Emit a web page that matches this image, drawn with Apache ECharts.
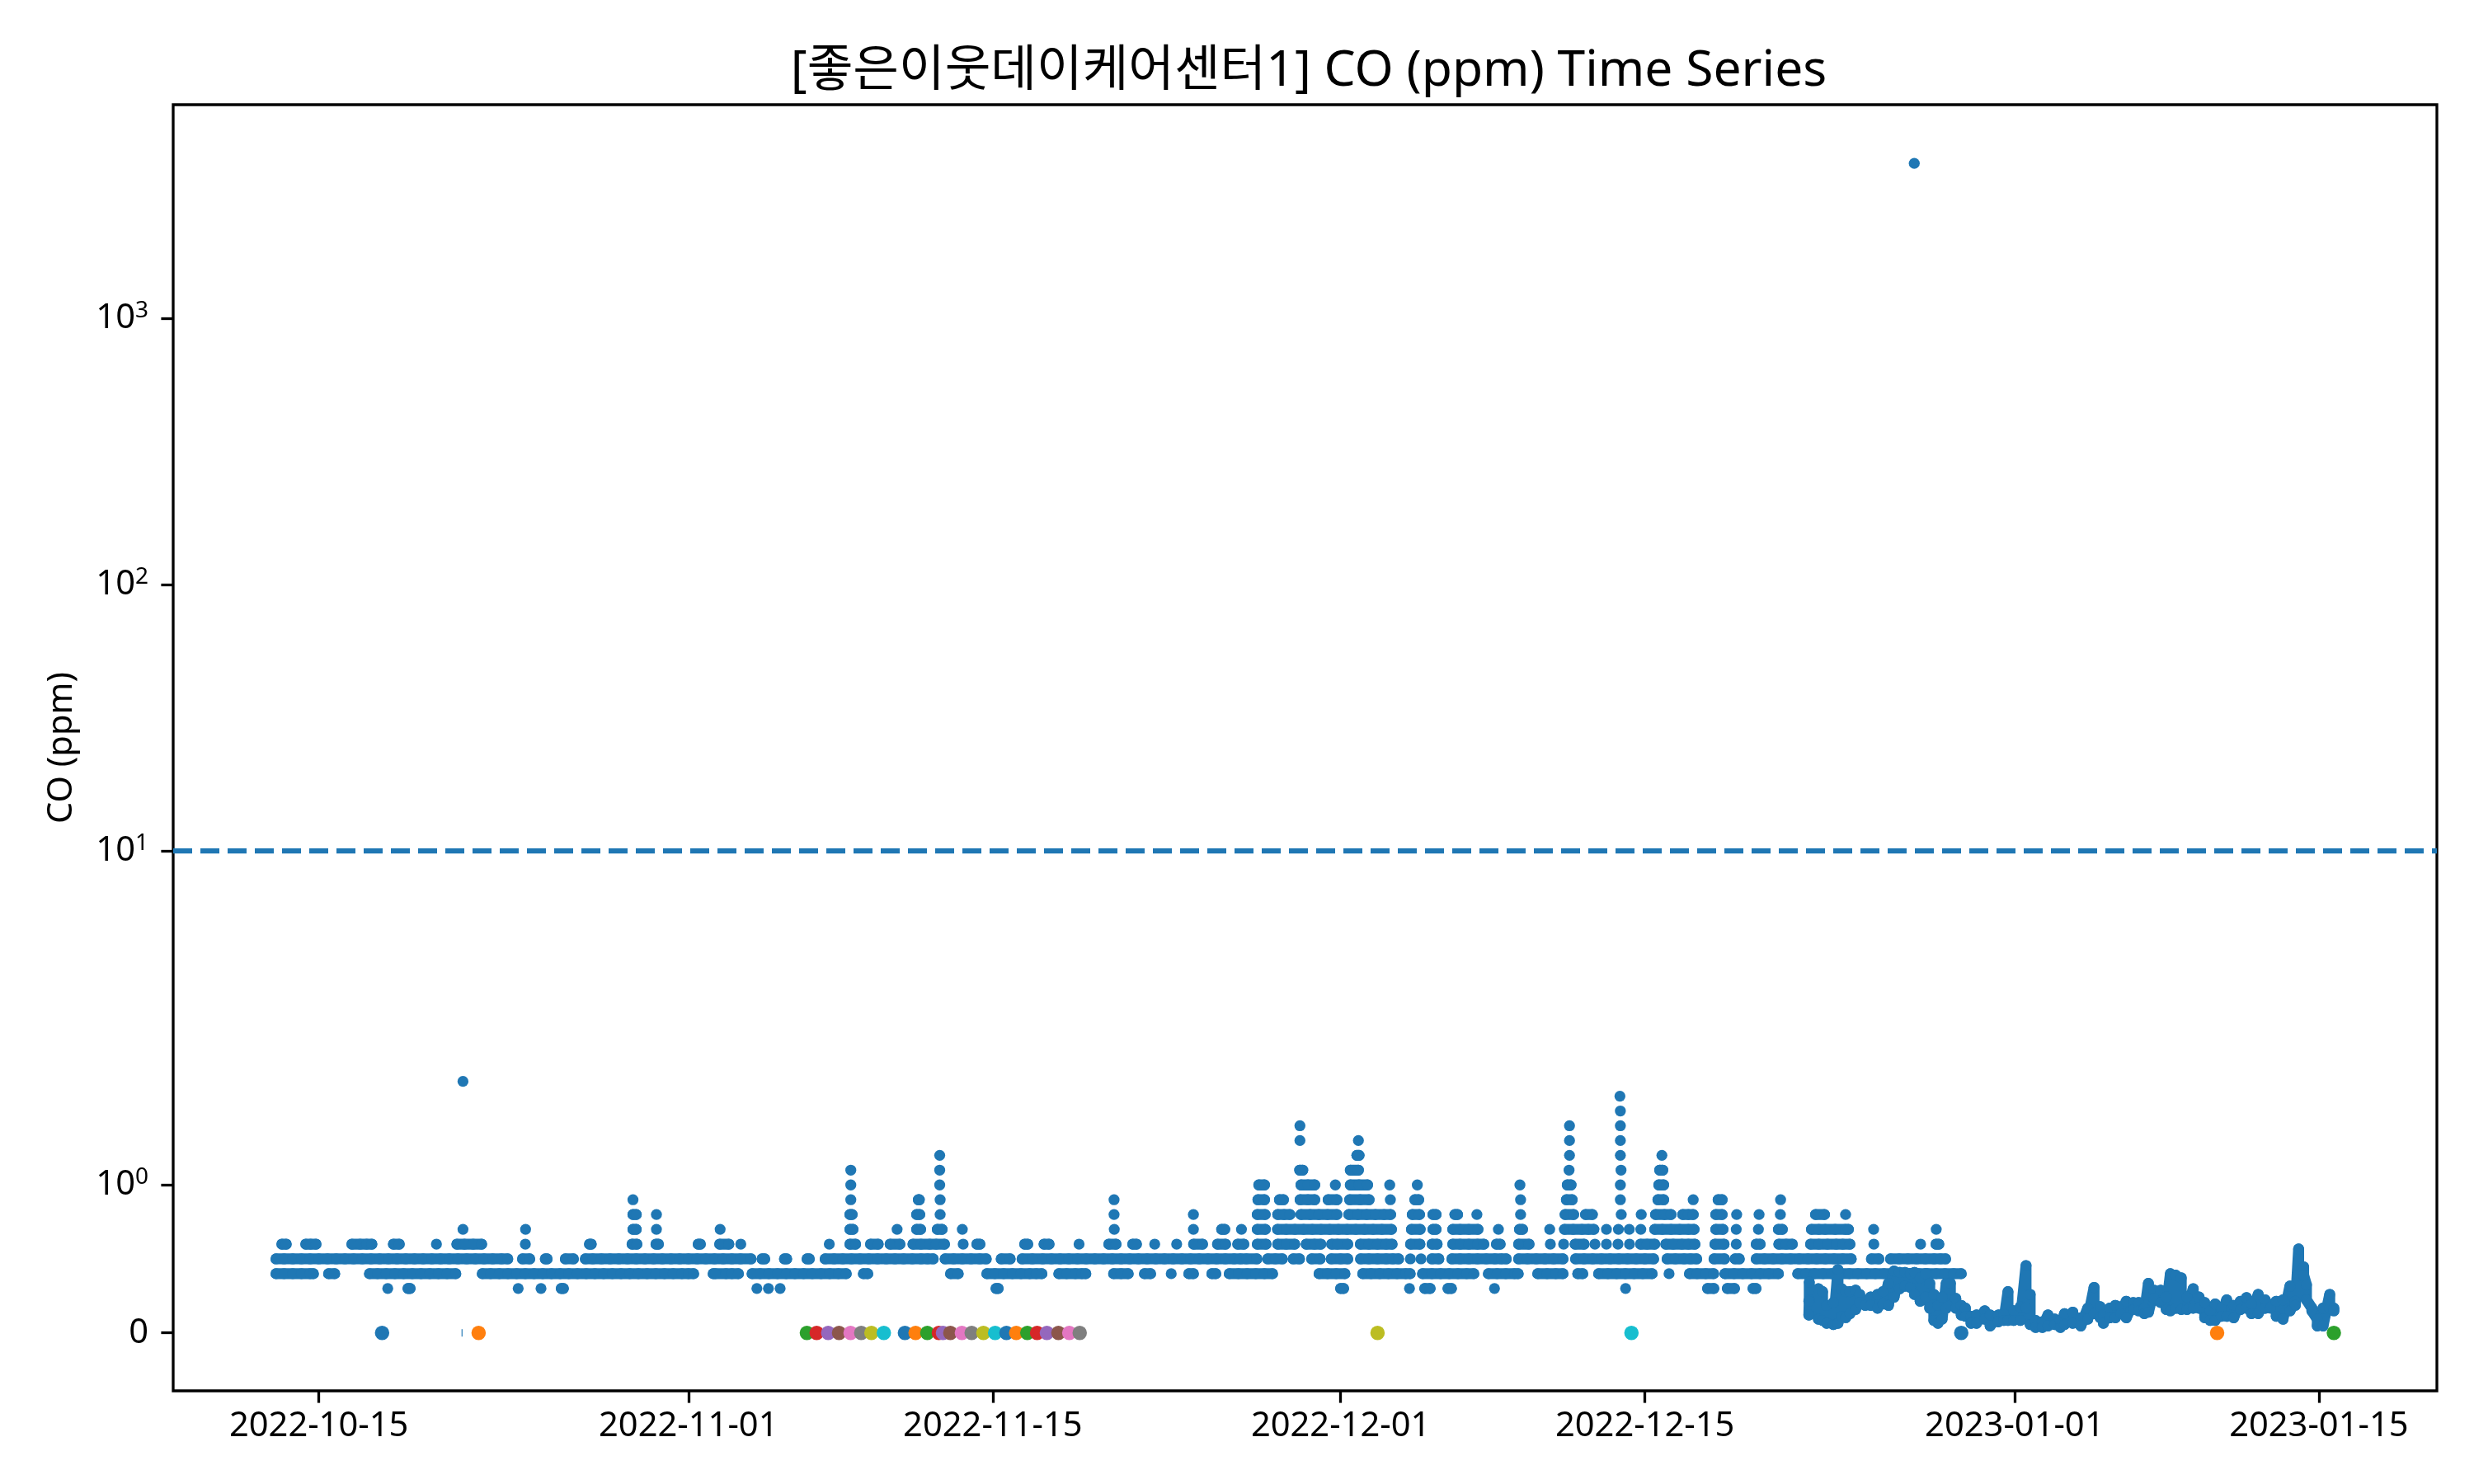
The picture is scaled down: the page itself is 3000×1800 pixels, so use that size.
<!DOCTYPE html>
<html><head><meta charset="utf-8">
<style>html,body{margin:0;padding:0;background:#fff}#c{width:3000px;height:1800px}</style>
<script src="https://cdn.jsdelivr.net/npm/echarts@6/dist/echarts.min.js"></script>
</head><body><div id="c"></div>
<script>
// x values are days since 2022-10-01 (UTC)
const epochDay = Date.UTC(2022, 9, 1);
const titleText = '[좋은이웃데이케어센터1] CO (ppm) Time Series';
const yAxisName = 'CO (ppm)';
const xTickLabels = ['2022-10-15','2022-11-01','2022-11-15','2022-12-01','2022-12-15','2023-01-01','2023-01-15'];
const yTickValues = [0, 1, 10, 100, 1000];
const thresholdValue = 10;

const days_0_3 = [17.17,18.1,18.2,23.17,24.22,25.15,25.25,34.15,34.68,35.22,45.15,45.25,61.0,61.14,64.17,64.87,65.12,65.94,66.1,68.08,74.11,77.88,78.17,78.79,79.12,79.97,80.11];
const days_0_4 = [12.03,12.4,12.8,13.2,13.6,13.75,14.45,14.73,16.33,16.7,17.1,17.5,17.9,18.3,18.7,19.1,19.5,19.9,20.3,21.52,21.9,22.3,22.7,23.1,23.5,23.9,24.3,24.7,25.1,25.5,25.9,26.3,26.7,27.1,27.5,27.9,28.3,28.7,29.1,29.5,29.9,30.3,30.7,31.0,31.24,32.14,32.24,32.73,33.0,33.3,33.93,34.3,34.7,35.1,35.5,35.9,36.3,36.7,37.1,37.5,37.9,38.26,39.05,39.25,43.06,43.41,44.73,45.1,45.5,45.9,46.3,46.7,47.0,47.26,48.04,48.4,48.8,49.1,49.28,50.56,50.9,51.23,51.98,52.26,53.21,54.02,54.23,55.08,55.26,55.88,56.3,56.7,57.1,57.5,57.87,60.01,60.4,60.8,61.2,62.02,62.4,62.8,63.2,63.6,64.0,64.2,64.77,65.2,65.6,66.0,66.4,66.8,67.13,67.8,68.2,68.6,69.0,69.17,70.07,70.5,70.9,71.23,71.91,72.14,72.87,73.3,73.7,74.1,74.5,74.9,75.33,76.11,77.05,77.4,77.8,78.16,78.68,79.1,79.5,79.9,80.3,80.7,81.14,82.03,82.4,82.8,83.2,83.6,84.0,84.4,84.8,85.2,85.6,86.0,86.4,86.8,87.2,87.6,88.0,88.4,88.8,89.2,89.55];
const days_0_5 = [12.03,12.4,12.8,13.2,13.6,14.0,14.4,14.8,15.2,15.6,16.0,16.4,16.8,17.2,17.6,18.0,18.4,18.8,19.2,19.6,20.0,20.4,20.8,21.2,21.6,22.0,22.4,22.69,23.37,23.7,24.42,24.5,25.34,25.71,26.26,26.6,27.0,27.4,27.8,28.2,28.6,29.0,29.4,29.8,30.2,30.6,31.0,31.4,31.8,32.2,32.6,33.0,33.4,33.88,34.39,34.51,35.42,35.52,36.46,36.56,37.29,37.7,38.1,38.5,38.9,39.3,39.7,40.1,40.5,40.9,41.3,41.7,42.0,42.26,42.81,43.2,43.6,44.0,44.4,44.7,45.39,45.8,46.35,46.82,47.3,47.7,48.1,48.5,48.9,49.3,49.7,50.1,50.5,50.9,51.3,51.7,52.1,52.5,52.9,53.3,53.7,54.1,54.5,54.9,55.3,55.7,56.1,56.4,56.67,57.15,57.65,58.0,58.32,58.82,59.11,59.67,60.06,60.57,61.0,61.33,61.92,62.3,62.7,63.1,63.4,63.67,64.21,64.7,65.2,65.52,66.12,66.5,66.9,67.3,67.7,68.1,68.4,68.62,69.19,69.6,70.0,70.4,70.8,71.23,71.81,72.2,72.6,73.0,73.4,73.8,74.2,74.6,75.0,75.4,76.02,76.4,76.8,77.1,77.38,78.18,78.66,79.15,79.34,80.12,80.5,80.9,81.3,81.7,82.1,82.5,82.9,83.3,83.7,84.1,84.49,85.42,85.76,86.3,86.7,87.1,87.5,87.9,88.3,88.6,88.83];
const days_0_6 = [12.3,12.5,13.4,13.62,13.87,15.52,15.9,16.2,16.44,17.43,17.7,19.41,20.35,20.7,21.1,21.49,23.5,26.45,26.53,28.41,28.63,29.51,29.62,31.45,31.55,32.44,32.86,33.41,37.48,38.43,38.69,39.38,39.73,40.28,40.73,41.33,41.7,42.1,42.4,42.78,43.64,44.27,44.41,46.47,46.61,47.36,47.59,48.97,50.34,50.67,51.44,51.61,52.45,53.46,54.24,54.65,55.34,55.71,56.27,56.55,57.17,57.57,58.11,58.5,58.89,59.42,59.8,60.09,60.59,60.85,61.33,61.91,62.3,62.7,63.1,63.37,64.22,64.65,65.21,65.44,66.16,66.5,66.9,67.3,67.59,68.17,68.34,69.19,69.67,70.65,71.26,71.79,72.2,72.7,73.23,73.76,74.29,74.8,75.1,75.45,75.96,76.3,76.7,77.0,77.3,78.22,78.64,79.2,80.12,80.3,81.16,81.5,81.78,82.62,83.0,83.4,83.8,84.1,84.43,85.53,87.68,88.39,88.52];
const days_0_7 = [20.63,23.51,28.45,28.6,29.53,32.46,38.43,38.57,40.6,41.5,41.68,42.45,42.67,43.6,50.59,54.23,55.53,55.67,56.44,57.17,57.54,58.1,58.5,58.9,59.3,59.7,60.1,60.5,60.9,61.3,61.7,62.1,62.5,62.9,63.34,64.26,64.66,65.25,65.39,66.16,66.5,66.9,67.32,68.26,69.23,69.37,70.62,71.3,71.7,72.1,72.4,72.65,73.23,73.78,74.28,74.81,75.45,75.8,76.2,76.6,77.0,77.26,78.26,78.59,79.2,80.22,81.14,81.32,82.66,83.0,83.29,83.75,84.22,84.36,85.52,88.4];
const days_0_8 = [28.45,28.6,29.53,38.43,38.53,41.5,41.64,42.58,50.58,54.23,57.17,57.53,58.11,58.4,58.67,59.18,59.6,60.0,60.4,60.83,61.38,61.8,62.2,62.6,63.0,63.3,64.3,64.63,65.25,65.39,66.26,66.38,67.27,69.28,71.33,71.72,72.27,72.58,73.91,74.83,75.49,75.9,76.2,76.74,77.0,77.22,78.26,78.55,79.22,80.25,81.23,82.85,83.26,84.23];
const days_0_9 = [28.45,38.47,41.58,41.62,42.58,50.58,57.2,57.5,58.19,58.37,59.14,59.5,59.81,60.43,60.83,61.42,61.9,62.31,63.29,64.42,64.59,69.28,71.39,71.65,73.87,75.6,75.86,77.22,78.37,78.55,81.24];
const days_1_0 = [38.47,42.56,57.24,57.5,59.18,59.5,59.81,60.76,61.45,61.85,62.24,63.26,64.53,69.25,71.43,71.6,73.87,75.64,75.86];
const days_1_1 = [38.47,42.56,59.12,59.26,61.45,61.82,71.51,73.9,75.68,75.82];
const days_1_2 = [42.56,61.75,61.85,71.53,73.87,75.78];
const days_1_3 = [59.13,61.82,71.53,73.87];
const days_1_4 = [59.13,71.53,73.87];
const days_1_5 = [73.87];
const days_1_6 = [73.85];
const days_1_7 = [20.63];
const outlierDay = [87.39];
const outlierValue = [3816];

// finer sensor period at the end of the record: day, highest and lowest reading read at that day
const traceDays = [82.56,82.54,82.98,83.17,83.36,83.67,83.88,84.05,84.24,84.43,84.69,84.88,85.13,85.38,85.70,85.95,86.20,86.46,86.71,86.96,87.21,87.40,87.66,87.91,88.10,88.29,88.48,88.67,88.86,89.05,89.30,89.55,89.74,90.00,90.25,90.63,90.88,91.26,91.51,91.70,91.96,92.27,92.53,92.72,92.97,93.28,93.54,93.85,94.11,94.30,94.68,95.05,95.37,95.66,95.94,96.09,96.38,96.64,96.89,97.14,97.46,97.71,97.97,98.16,98.41,98.72,98.98,99.17,99.42,99.67,99.93,100.22,100.49,100.75,101.00,101.23,101.51,101.76,102.08,102.39,102.67,102.90,103.21,103.53,103.78,104.04,104.35,104.67,104.92,105.07,105.30,105.43,105.68,105.93,106.19,106.50,106.69];
const traceHigh = [.344,.214,.298,.279,.186,.205,.428,.298,.279,.279,.288,.260,.205,.242,.260,.279,.335,.418,.409,.409,.400,.409,.372,.400,.335,.260,.186,.242,.335,.335,.233,.186,.167,.112,.121,.149,.121,.121,.130,.279,.149,.177,.455,.260,.084,.075,.121,.093,.084,.130,.140,.102,.167,.307,.177,.121,.167,.186,.177,.214,.205,.205,.167,.335,.288,.288,.242,.400,.390,.372,.242,.298,.242,.205,.149,.195,.167,.223,.186,.214,.238,.195,.260,.223,.177,.214,.223,.316,.214,.567,.446,.325,.167,.093,.167,.260,.167];
const traceLow = [.223,.121,.093,.084,.065,.056,.065,.112,.103,.130,.158,.205,.186,.186,.167,.195,.186,.242,.298,.316,.307,.260,.214,.242,.167,.084,.065,.093,.167,.186,.167,.121,.112,.065,.065,.093,.047,.075,.084,.084,.084,.084,.167,.056,.037,.037,.047,.056,.037,.056,.065,.047,.093,.130,.102,.065,.102,.102,.130,.102,.158,.149,.130,.140,.233,.205,.158,.149,.167,.158,.158,.167,.167,.102,.084,.084,.112,.112,.102,.158,.167,.130,.130,.167,.167,.112,.093,.149,.186,.390,.390,.223,.149,.047,.047,.167,.149];

// zero readings, drawn one colour after another around the ten-colour cycle
const zeroDays = [16.91,21.35,36.45,36.90,37.43,37.93,38.46,38.95,39.42,39.99,40.96,41.45,41.99,42.52,42.71,43.05,43.58,44.03,44.57,45.11,45.63,46.08,46.59,47.04,47.49,48.02,48.52,49.0,62.70,74.38,89.55,101.32,106.69];
const zeroColourIndex = [0,1,2,3,4,5,6,7,8,9,0,1,2,3,4,5,6,7,8,9,0,1,2,3,4,5,6,7,8,9,0,1,2];
const tinyZeroDay = [20.59];
const palette = ['#1f77b4','#ff7f0e','#2ca02c','#d62728','#9467bd','#8c564b','#e377c2','#7f7f7f','#bcbd22','#17becf'];

const levelTable = [[0.3,days_0_3],[0.4,days_0_4],[0.5,days_0_5],[0.6,days_0_6],[0.7,days_0_7],[0.8,days_0_8],[0.9,days_0_9],[1.0,days_1_0],[1.1,days_1_1],[1.2,days_1_2],[1.3,days_1_3],[1.4,days_1_4],[1.5,days_1_5],[1.6,days_1_6],[1.7,days_1_7]];

// symmetric-log scale: linear to 2, then decades (linscale 1)
const LT = 2, LS = 1 / (1 - 0.1);
const sym = v => v <= LT ? v * LS : LT * (LS + Math.log10(v / LT));
const t = d => epochDay + d * 86400000;
const iso = s => Date.parse(s + 'T00:00:00Z');

const fam = '"Noto Sans","Noto Sans CJK KR",sans-serif';
const blue = palette[0];
const MARK = 13.3, LINK_DAYS = 0.49;

// readings closer than the marker width merge into one solid band
const levelSeries = levelTable.map(([v, ds]) => {
  const data = [];
  ds.forEach((d, i) => {
    if (i && d - ds[i - 1] > LINK_DAYS) data.push([t(d), null]);
    data.push([t(d), sym(v)]);
  });
  return {type: 'line', silent: true, z: 2, symbol: 'circle', symbolSize: MARK, showSymbol: true, showAllSymbol: true,
    connectNulls: false, itemStyle: {color: blue}, lineStyle: {color: blue, width: MARK, cap: 'round', join: 'round'}, data};
});
const traceData = [];
traceDays.forEach((d, i) => { traceData.push([t(d), sym(traceHigh[i])]); traceData.push([t(d), sym(traceLow[i])]); });

const chart = echarts.init(document.getElementById('c'), null, {renderer: 'canvas', width: 3000, height: 1800});
chart.setOption({
  animation: false,
  backgroundColor: '#fff',
  title: {text: titleText, left: 1582, top: 52, textAlign: 'center',
    textStyle: {fontFamily: fam, fontSize: 60.5, fontWeight: 'normal', color: '#000'}},
  grid: {left: 210, right: 45, top: 127, bottom: 113, show: true, borderColor: '#000', borderWidth: 3.3, backgroundColor: '#fff', containLabel: false},
  xAxis: {type: 'value', min: t(7.30), max: t(111.43), scale: true,
    splitLine: {show: false}, axisLine: {show: false, onZero: false},
    axisTick: {show: true, length: 14.6, inside: false, lineStyle: {color: '#000', width: 3.3}, customValues: xTickLabels.map(iso)},
    axisLabel: {show: true, fontFamily: fam, fontSize: 41.67, color: '#000', margin: 22, hideOverlap: false,
      customValues: xTickLabels.map(iso),
      formatter: v => xTickLabels[xTickLabels.map(iso).indexOf(v)] || ''}
  },
  yAxis: {type: 'value', min: -0.4353, max: 9.224, scale: false,
    name: yAxisName, nameLocation: 'middle', nameRotate: 90, nameGap: 114,
    nameTextStyle: {fontFamily: fam, fontSize: 41.67, color: '#000'},
    splitLine: {show: false}, axisLine: {show: false, onZero: false},
    axisTick: {show: true, length: 14.6, lineStyle: {color: '#000', width: 3.3}, customValues: yTickValues.map(sym)},
    axisLabel: {show: true, fontFamily: fam, fontSize: 41.67, color: '#000', margin: 30, hideOverlap: false,
      customValues: yTickValues.map(sym),
      formatter: v => {
        const i = yTickValues.map(sym).findIndex(x => Math.abs(x - v) < 1e-6);
        if (yTickValues[i] === 0) return '0';
        return '{b|10}{s|' + Math.round(Math.log10(yTickValues[i])) + '}';
      },
      rich: {b: {fontFamily: fam, fontSize: 41.67, color: '#000', lineHeight: 46},
             s: {fontFamily: fam, fontSize: 28, color: '#000', verticalAlign: 'top', lineHeight: 28}}}
  },
  series: [
    ...levelSeries,
    {type: 'scatter', silent: true, z: 2, symbol: 'circle', symbolSize: MARK, itemStyle: {color: blue, opacity: 1},
     data: outlierDay.map((d, i) => [t(d), sym(outlierValue[i])])},
    {type: 'line', silent: true, z: 3, symbol: 'circle', symbolSize: MARK, showSymbol: true, showAllSymbol: true,
     itemStyle: {color: blue}, lineStyle: {color: blue, width: MARK, cap: 'round', join: 'round'}, data: traceData},
    {type: 'scatter', silent: true, z: 4, symbol: 'rect', symbolSize: [1.5, 9],
     itemStyle: {color: blue}, data: tinyZeroDay.map(d => [t(d), sym(0)])},
    {type: 'scatter', silent: true, z: 5, symbol: 'circle', symbolSize: 17.5,
     data: zeroDays.map((d, i) => ({value: [t(d), sym(0)], itemStyle: {color: palette[zeroColourIndex[i]], opacity: 1}}))},
    {type: 'line', silent: true, z: 6, data: [], symbol: 'none',
     markLine: {silent: true, symbol: 'none', animation: false, label: {show: false},
       lineStyle: {color: blue, width: 6.25, type: [23, 10]},
       data: [{yAxis: sym(thresholdValue)}]}}
  ]
});
</script></body></html>
